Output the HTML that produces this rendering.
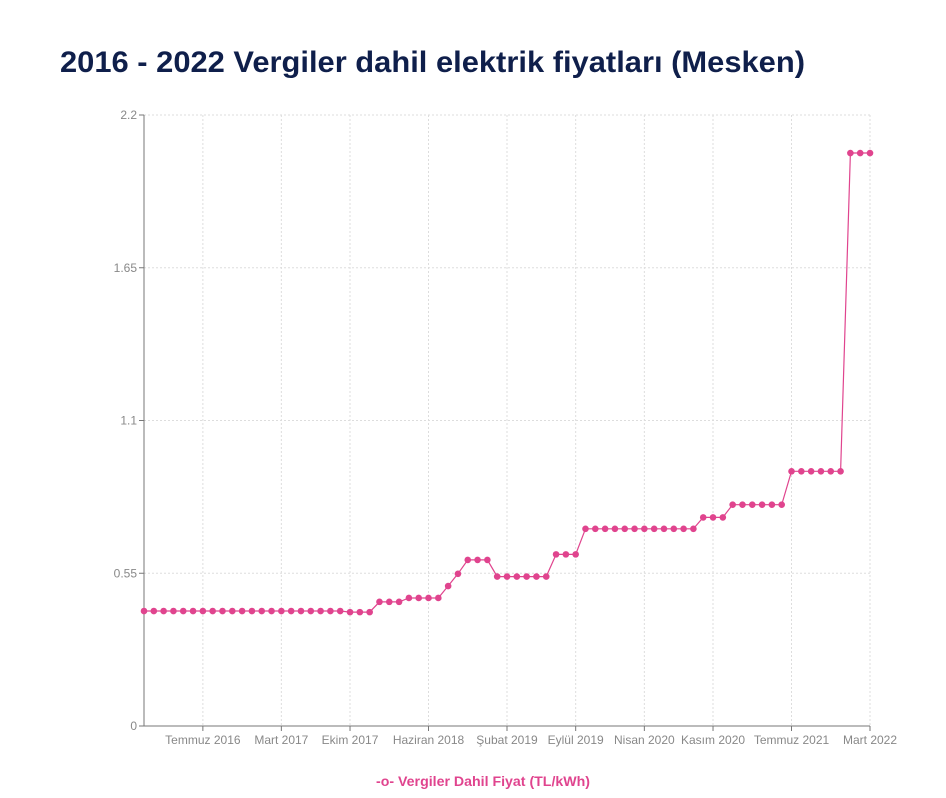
<!DOCTYPE html>
<html><head><meta charset="utf-8">
<style>html,body{margin:0;padding:0;background:#fff;}svg{display:block;}</style>
</head><body>
<svg id="c" width="946" height="798" xmlns="http://www.w3.org/2000/svg" font-family="Liberation Sans, sans-serif">
<text x="60" y="72" font-size="30" font-weight="bold" fill="#0f1f4b" textLength="745" lengthAdjust="spacingAndGlyphs">2016 - 2022 Vergiler dahil elektrik fiyatları (Mesken)</text>
<g id="grid" stroke="#ddd" stroke-dasharray="2,2" stroke-width="1"></g>
<g id="axes"></g>
<g id="series"></g>
<text x="376" y="786" font-size="14" font-weight="bold" fill="#e0448e" textLength="214" lengthAdjust="spacingAndGlyphs">-o- Vergiler Dahil Fiyat (TL/kWh)</text>
</svg>
<script>
var NS="http://www.w3.org/2000/svg";
function el(p,t,a,txt){var e=document.createElementNS(NS,t);for(var k in a)e.setAttribute(k,a[k]);if(txt)e.textContent=txt;document.getElementById(p).appendChild(e);return e;}
var x0=144,dx=726/74,yb=726,k=611/2.2;
function X(i){return x0+i*dx;}function Y(v){return yb-v*k;}
[0.55,1.1,1.65,2.2].forEach(function(v){el("grid","line",{x1:x0,x2:870,y1:Y(v),y2:Y(v)});});
var ticks=[[6,"Temmuz 2016"],[14,"Mart 2017"],[21,"Ekim 2017"],[29,"Haziran 2018"],[37,"Şubat 2019"],[44,"Eylül 2019"],[51,"Nisan 2020"],[58,"Kasım 2020"],[66,"Temmuz 2021"],[74,"Mart 2022"]];
ticks.forEach(function(t){var x=X(t[0]);el("grid","line",{x1:x,x2:x,y1:115,y2:726});
el("axes","line",{x1:x,x2:x,y1:726,y2:731,stroke:"#777"});
el("axes","text",{x:x,y:744,"font-size":"12","fill":"#888","text-anchor":"middle"},t[1]);});
el("axes","line",{x1:x0,x2:x0,y1:115,y2:726,stroke:"#777"});
el("axes","line",{x1:x0,x2:870,y1:726,y2:726,stroke:"#777"});
[[0,"0"],[0.55,"0.55"],[1.1,"1.1"],[1.65,"1.65"],[2.2,"2.2"]].forEach(function(t){
el("axes","line",{x1:x0-5,x2:x0,y1:Y(t[0]),y2:Y(t[0]),stroke:"#777"});
el("axes","text",{x:x0-7,y:Y(t[0])+4,"font-size":"12","fill":"#888","text-anchor":"end"},t[1]);});
var v=[];
function f(a,b,val){for(var i=a;i<=b;i++)v[i]=val;}
f(0,20,0.414);f(21,23,0.41);f(24,26,0.447);f(27,30,0.461);f(31,31,0.504);f(32,32,0.548);
f(33,35,0.598);f(36,41,0.538);f(42,44,0.618);f(45,56,0.71);f(57,59,0.751);f(60,65,0.797);f(66,71,0.917);f(72,74,2.063);
var pts=v.map(function(val,i){return X(i).toFixed(1)+","+Y(val).toFixed(1);}).join(" ");
el("series","polyline",{points:pts,fill:"none",stroke:"#e0448e","stroke-width":"1.2"});
v.forEach(function(val,i){el("series","circle",{cx:X(i),cy:Y(val),r:3.3,fill:"#e0448e"});});
</script>
</body></html>
